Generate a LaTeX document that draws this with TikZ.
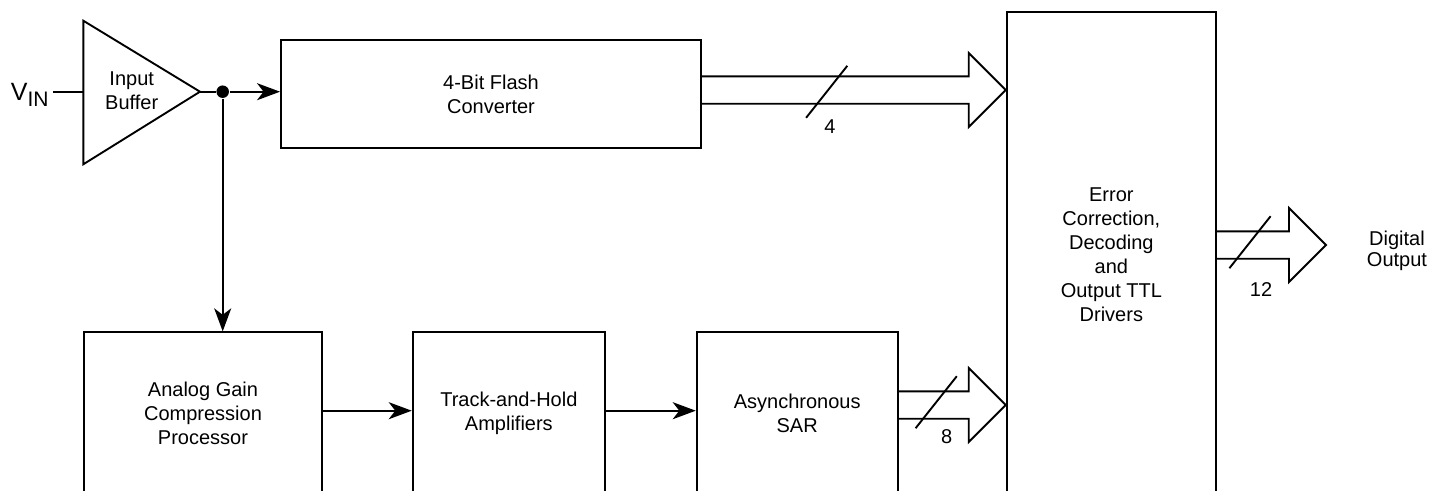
\documentclass[tikz,border=0pt]{standalone}
\usepackage{fontspec}
\setmainfont{Liberation Sans}
\usetikzlibrary{arrows.meta,calc}
\newcommand\blkfont{\fontsize{20}{24}\selectfont}
\newcommand\outfont{\fontsize{20}{21}\selectfont}
\newcommand\busarrow[2]{%
  \draw[bus] ($(#1 |- #2)+(0,-13.7)$) -- ($(#2)+(-37,-13.7)$) -- ($(#2)+(-37,-37)$) -- (#2)
    -- ($(#2)+(-37,37)$) -- ($(#2)+(-37,13.7)$) -- ($(#1 |- #2)+(0,13.7)$);}
\newcommand\busslash[1]{\draw ($(#1)+(-20.6,26)$) -- ($(#1)+(20.6,-26)$);}
\begin{document}
\begin{tikzpicture}[x=1pt,y=-1pt,line width=1.9pt,
  blk/.style={draw,rectangle,inner sep=0pt,align=center,font=\blkfont},
  lbl/.style={inner sep=0pt,font=\blkfont},
  arr/.style={-{Stealth[length=23pt,width=17pt,inset=6.5pt]}},
  bus/.style={line join=miter}]
\useasboundingbox (0,0) rectangle (1443,490);
\clip (0,0) rectangle (1443,490);
% blocks
\node[blk,minimum width=420pt,minimum height=108.3pt] (flash) at (491,94.15) {4-Bit Flash\\Converter};
\node[blk,minimum width=237.4pt,minimum height=162.7pt] (analog) at (203,413.65) {Analog Gain\\Compression\\Processor};
\node[blk,minimum width=192.3pt,minimum height=162.7pt] (th) at (508.85,413.65) {Track-and-Hold\\Amplifiers};
\node[blk,minimum width=201pt,minimum height=162.7pt] (sar) at (797.2,413.65) {Asynchronous\\SAR};
\node[blk,minimum width=209.3pt,minimum height=485.7pt] (ecc) at (1111.35,255.15) {Error\\Correction,\\Decoding\\and\\Output TTL\\Drivers};
% input buffer
\coordinate (tA) at (83.3,20.7);
\coordinate (tB) at (83.3,164.3);
\coordinate (bufin) at (83.3,91.7);
\coordinate (bufout) at (200,91.7);
\draw[line join=miter] (tA) -- (bufout) -- (tB) -- cycle;
\node[lbl,align=center] (buf) at (131.7,90.7) {Input\\Buffer};
\node[inner sep=0pt,anchor=base west] (vin) at (10,100) {{\fontsize{25}{25}\selectfont V}{\fontsize{21}{21}\selectfont\raisebox{-6.7pt}{IN}}};
\coordinate (vinend) at (53.3,91.7);
\draw (vinend) -- (bufin);
% junction
\node[circle,fill,inner sep=0pt,minimum size=12.5pt] (j) at (222.7,91.7) {};
\draw (bufout) -- (j);
\draw[arr] (j) -- (j -| flash.west);
\draw[arr] (j) -- (j |- analog.north);
% bottom chain
\coordinate (ry) at (0,410.7);
\draw[arr] (analog.east |- ry) -- (th.west |- ry);
\draw[arr] (th.east |- ry) -- (sar.west |- ry);
% buses
\coordinate (tip1) at (ecc.west |- 0,90);
\coordinate (tip2) at (ecc.west |- 0,405);
\coordinate (out) at (1326,245);
\busarrow{flash.east}{tip1}
\busarrow{sar.east}{tip2}
\busarrow{ecc.east}{out}
\coordinate (s1) at (826.7,91.8);
\coordinate (s2) at (936.2,402.2);
\coordinate (s3) at (1250,242.2);
\busslash{s1}
\busslash{s2}
\busslash{s3}
\node[lbl] (n4) at (830,127) {4};
\node[lbl] (n8) at (946.7,437) {8};
\node[lbl] (n12) at (1261,289.5) {12};
\node[inner sep=0pt,align=center,font=\outfont] (dout) at (1397,250.5) {Digital\\Output};
\end{tikzpicture}
\end{document}
